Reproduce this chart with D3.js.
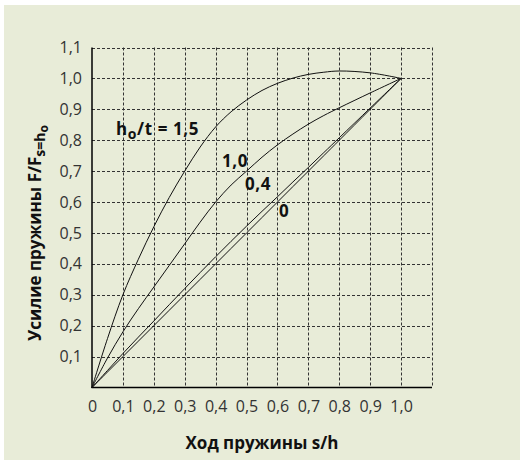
<!DOCTYPE html>
<html><head><meta charset="utf-8">
<script src="https://cdn.jsdelivr.net/npm/d3@7"></script>
<style>
html,body{margin:0;padding:0;background:#fff;}
svg{display:block;}
</style></head>
<body>
<svg id="chart" width="520" height="461"></svg>
<script>
// ---- data ----
const strokeS = [0, 0.05, 0.1, 0.15, 0.2, 0.25, 0.3, 0.35, 0.4, 0.45, 0.5, 0.55, 0.6, 0.65, 0.7, 0.75, 0.8, 0.9, 1.0];
const force15 = [0, 0.158, 0.30, 0.415, 0.52, 0.615, 0.70, 0.778, 0.843, 0.892, 0.93, 0.961, 0.984, 1.001, 1.013, 1.02, 1.024, 1.018, 1.0];
const force10 = [0, 0.095, 0.18, 0.255, 0.325, 0.395, 0.465, 0.535, 0.60, 0.655, 0.70, 0.745, 0.785, 0.82, 0.852, 0.88, 0.905, 0.953, 1.0];
const force04 = [0, 0.055, 0.11, 0.163, 0.215, 0.268, 0.32, 0.372, 0.423, 0.473, 0.522, 0.57, 0.617, 0.665, 0.712, 0.76, 0.808, 0.904, 1.0];
const force00 = [0, 0.05, 0.1, 0.15, 0.2, 0.25, 0.3, 0.35, 0.4, 0.45, 0.5, 0.55, 0.6, 0.65, 0.7, 0.75, 0.8, 0.9, 1.0];
const xTicks = [0, 0.1, 0.2, 0.3, 0.4, 0.5, 0.6, 0.7, 0.8, 0.9, 1.0];
const yTicks = [0.1, 0.2, 0.3, 0.4, 0.5, 0.6, 0.7, 0.8, 0.9, 1.0, 1.1];
const gridVals = [0.1, 0.2, 0.3, 0.4, 0.5, 0.6, 0.7, 0.8, 0.9, 1.0, 1.1];

const svg = d3.select("#chart");
const BG = "#e8ecd8";
const font = "'Open Sans', 'Noto Sans', sans-serif";

svg.append("rect").attr("x", 4).attr("y", 5).attr("width", 516).attr("height", 455).attr("fill", BG);

const x = d3.scaleLinear().domain([0, 1.1]).range([92, 432]);
const y = d3.scaleLinear().domain([0, 1.1]).range([387.5, 47.5]);

// grid
const g = svg.append("g");
g.selectAll("line.v").data(gridVals).join("line")
  .attr("x1", d => Math.round(x(d)) + 0.5).attr("x2", d => Math.round(x(d)) + 0.5)
  .attr("y1", y(1.1)).attr("y2", y(0))
  .attr("stroke", "#333").attr("stroke-width", 1).attr("stroke-dasharray", "3,2");
g.selectAll("line.h").data(gridVals).join("line")
  .attr("y1", d => Math.round(y(d)) + 0.5).attr("y2", d => Math.round(y(d)) + 0.5)
  .attr("x1", x(0)).attr("x2", x(1.1))
  .attr("stroke", "#333").attr("stroke-width", 1).attr("stroke-dasharray", "3,2");

// axes lines
svg.append("line").attr("x1", x(0)).attr("x2", x(0)).attr("y1", y(1.1)).attr("y2", y(0) + 0.5)
  .attr("stroke", "#000").attr("stroke-width", 1.5);
svg.append("line").attr("x1", x(0) - 0.5).attr("x2", x(1.1)).attr("y1", y(0)).attr("y2", y(0))
  .attr("stroke", "#000").attr("stroke-width", 1.5);

const fmt = d => d3.format(".1f")(d).replace(".", ",");
const xAxis = svg.append("g").attr("transform", `translate(0,${y(0)})`)
  .call(d3.axisBottom(x).tickValues(xTicks).tickSize(0).tickPadding(13)
    .tickFormat(d => d === 0 ? "0" : fmt(d)));
const yAxis = svg.append("g").attr("transform", `translate(${x(0)},0)`)
  .call(d3.axisLeft(y).tickValues(yTicks).tickSize(0).tickPadding(10).tickFormat(fmt));
[xAxis, yAxis].forEach(a => {
  a.select(".domain").remove();
  a.selectAll("text").attr("font-family", font).attr("font-size", 16).attr("fill", "#333");
});

// curves
const line = d3.line().x(d => x(d[0])).y(d => y(d[1])).curve(d3.curveCatmullRom.alpha(0.5));
[force15, force10, force04, force00].forEach(f => {
  svg.append("path").datum(strokeS.map((s, i) => [s, f[i]]))
    .attr("d", line).attr("fill", "none").attr("stroke", "#111").attr("stroke-width", 1);
});

// curve labels
function label(tx, ty, parts) {
  const t = svg.append("text").attr("x", tx).attr("y", ty)
    .attr("font-family", font).attr("font-weight", 700).attr("font-size", 17)
    .attr("letter-spacing", 0.6).attr("fill", "#111");
  parts.forEach(p => {
    const ts = t.append("tspan").text(p.t);
    if (p.dy) ts.attr("dy", p.dy);
    if (p.fs) ts.attr("font-size", p.fs);
  });
  return t;
}
label(116, 135, [{t: "h"}, {t: "o", dy: 4, fs: 14}, {t: "/t = 1,5", dy: -4}]);
label(222, 167, [{t: "1,0"}]);
label(245, 190, [{t: "0,4"}]);
label(279, 217, [{t: "0"}]);

// axis titles
svg.append("text").attr("x", 262).attr("y", 449)
  .attr("text-anchor", "middle").attr("font-family", font).attr("font-weight", 700)
  .attr("font-size", 17).attr("fill", "#111").text("Ход пружины s/h");

const yt = svg.append("text").attr("transform", "translate(41,233) rotate(-90)")
  .attr("text-anchor", "middle").attr("font-family", font).attr("font-weight", 700)
  .attr("font-size", 17).attr("fill", "#111");
yt.append("tspan").text("Усилие пружины F/F");
yt.append("tspan").attr("dy", 4).attr("font-size", 14).text("s=h");
yt.append("tspan").attr("dy", 3).attr("font-size", 12).text("o");
</script>
</body></html>
